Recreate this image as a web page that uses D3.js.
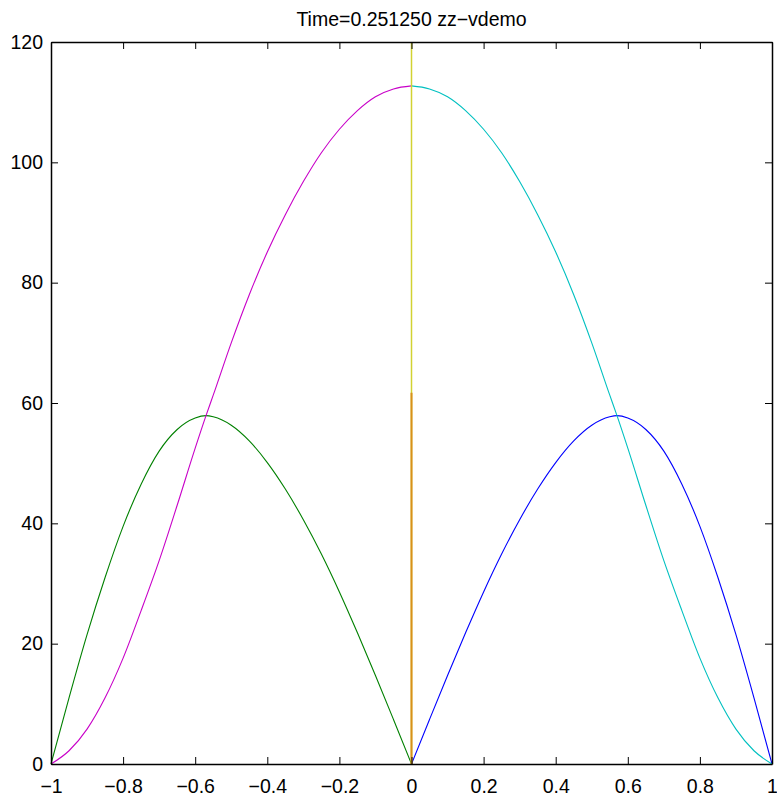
<!DOCTYPE html>
<html>
<head>
<meta charset="utf-8">
<script src="https://cdn.jsdelivr.net/npm/d3@7"></script>
<style>
  body { margin: 0; background: #fff; }
  .chart text { font-family: "Liberation Sans", Arial, Helvetica, sans-serif; fill: #000; }
  .curve { fill: none; }
</style>
</head>
<body>
<div class="chart"></div>
<script>
// values
var xLeft = [-1, -0.95, -0.9, -0.85, -0.8, -0.75, -0.7, -0.65, -0.6, -0.57, -0.55, -0.5,
             -0.45, -0.4, -0.35, -0.3, -0.25, -0.2, -0.15, -0.1, -0.05, 0];
var green = [0, 11.0, 21.5, 31.0, 39.5, 46.5, 52.0, 55.6, 57.5, 57.9, 57.7, 56.3,
             53.7, 50.1, 45.7, 40.6, 34.9, 28.6, 21.8, 14.7, 7.4, 0];
var magenta = [0, 2.2, 5.8, 11.0, 17.6, 25.5, 33.8, 43.0, 52.5, 57.9, 61.3, 70.0,
               78.0, 85.1, 91.3, 96.8, 101.6, 105.5, 108.6, 110.9, 112.2, 112.7];

var xRight = [0, 0.05, 0.1, 0.15, 0.2, 0.25, 0.3, 0.35, 0.4, 0.45, 0.5, 0.55,
              0.57, 0.6, 0.65, 0.7, 0.75, 0.8, 0.85, 0.9, 0.95, 1];
var blue = [0, 7.4, 14.7, 21.8, 28.6, 34.9, 40.6, 45.7, 50.1, 53.7, 56.3, 57.7,
            57.9, 57.5, 55.6, 52.0, 46.5, 39.5, 31.0, 21.5, 11.0, 0];
var cyan = [112.7, 112.2, 110.9, 108.6, 105.5, 101.6, 96.8, 91.3, 85.1, 78.0, 70.0, 61.3,
            57.9, 52.5, 43.0, 33.8, 25.5, 17.6, 11.0, 5.8, 2.2, 0];

// the two stems at x = 0
var stemX = [0, 0];
var yellowStem = [0, 120];
var orangeStem = [0, 61.7];

var xTicks = [-1, -0.8, -0.6, -0.4, -0.2, 0, 0.2, 0.4, 0.6, 0.8, 1];
var yTicks = [0, 20, 40, 60, 80, 100, 120];
var title = "Time=0.251250 zz\u2212vdemo";

var ZZ = ZZ || {};

ZZ.Chart = (function() {

  function fmt(d) {
    return d3.format("")(d).replace("-", "\u2212");
  }

  function drawChart() {
    var margin = { top: 42, right: 5, bottom: 32, left: 51 },
        width = 777 - margin.left - margin.right,
        height = 796 - margin.top - margin.bottom;

    var svg = d3.select(".chart").append("svg")
      .attr("width", 777)
      .attr("height", 796);

    var g = svg.append("g")
      .attr("transform", "translate(" + margin.left + "," + margin.top + ")");

    var x = d3.scaleLinear().domain([-1, 1]).range([0, width]);
    var y = d3.scaleLinear().domain([0, 120]).range([height, 0]);

    var line = d3.line()
      .x(function(d) { return x(d[0]); })
      .y(function(d) { return y(d[1]); })
      .curve(d3.curveMonotoneX);

    var series = [
      { xs: xLeft, ys: green, color: "#008000" },
      { xs: xRight, ys: blue, color: "#0000ff" },
      { xs: xLeft, ys: magenta, color: "#c800c8" },
      { xs: xRight, ys: cyan, color: "#00c0c0" }
    ];

    g.selectAll("path.curve")
      .data(series)
      .enter().append("path")
        .attr("class", "curve")
        .attr("stroke", function(d) { return d.color; })
        .attr("stroke-width", 1.1)
        .attr("d", function(d) { return line(d3.zip(d.xs, d.ys)); });

    var stemLine = d3.line()
      .x(function(d) { return x(d[0]); })
      .y(function(d) { return y(d[1]); });

    g.append("path")
      .attr("class", "curve")
      .attr("stroke", "#d2d232")
      .attr("stroke-width", 1.5)
      .attr("d", stemLine(d3.zip(stemX, yellowStem)));

    g.append("path")
      .attr("class", "curve")
      .attr("stroke", "#d8901a")
      .attr("stroke-width", 2)
      .attr("d", stemLine(d3.zip(stemX, orangeStem)));

    // box and inward ticks on all four sides
    var tickLen = 7;
    var axes = [
      { axis: d3.axisBottom(x).tickValues(xTicks).tickFormat(fmt).tickPadding(15), at: "translate(0," + height + ")" },
      { axis: d3.axisTop(x).tickValues(xTicks).tickFormat(""), at: null },
      { axis: d3.axisLeft(y).tickValues(yTicks).tickFormat(fmt).tickPadding(8), at: null },
      { axis: d3.axisRight(y).tickValues(yTicks).tickFormat(""), at: "translate(" + width + ",0)" }
    ];

    axes.forEach(function(a) {
      a.axis.tickSizeInner(-tickLen).tickSizeOuter(0);
      var ax = g.append("g").call(a.axis);
      if (a.at) ax.attr("transform", a.at);
      ax.select(".domain").attr("stroke", "#000").attr("stroke-width", 1.5);
      ax.selectAll(".tick line").attr("stroke", "#000").attr("stroke-width", 1);
      ax.selectAll("text")
        .style("font-family", "'Liberation Sans', Arial, sans-serif")
        .style("font-size", "19.5px")
        .attr("fill", "#000");
    });

    g.append("text")
      .attr("x", width / 2)
      .attr("y", -16)
      .attr("text-anchor", "middle")
      .style("font-size", "19.5px")
      .text(title);
  }

  return {
    draw: function() {
      return drawChart();
    }
  };
})();

ZZ.Chart.draw();
</script>
</body>
</html>
